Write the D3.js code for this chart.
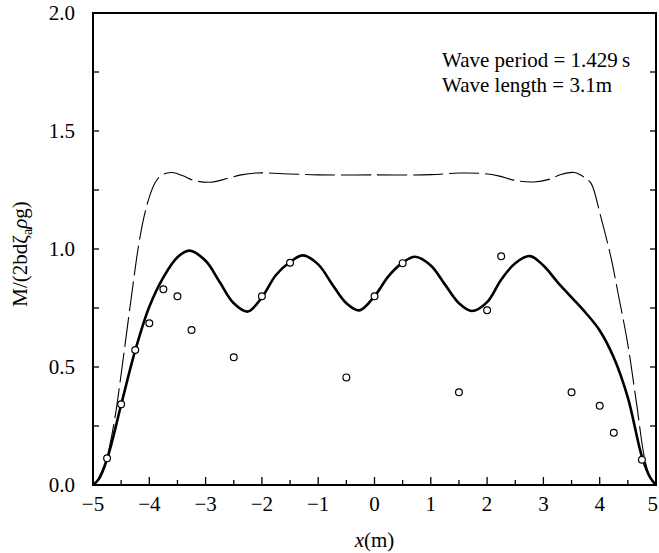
<!DOCTYPE html>
<html>
<head>
<meta charset="utf-8">
<script src="https://cdn.jsdelivr.net/npm/d3@7"></script>
<style>
  body { margin: 0; background: #fff; }
  text { font-family: "Liberation Serif", "DejaVu Serif", serif; fill: #000; }
</style>
</head>
<body>
<svg id="chart" width="659" height="553"></svg>
<script>
// theory (thick solid line)
var solidX = [-5, -4.9, -4.75, -4.5, -4.25, -4.0, -3.75, -3.5, -3.29, -3.0, -2.75, -2.5, -2.25, -2.0, -1.75, -1.5, -1.27, -1.0, -0.75, -0.5, -0.27, 0, 0.25, 0.5, 0.72, 1.0, 1.25, 1.5, 1.73, 2.0, 2.25, 2.5, 2.76, 3.0, 3.25, 3.5, 3.75, 4.0, 4.25, 4.5, 4.75, 4.9, 5]
var solidY = [0, 0.025, 0.11, 0.34, 0.57, 0.755, 0.88, 0.965, 0.993, 0.95, 0.86, 0.77, 0.735, 0.795, 0.89, 0.945, 0.973, 0.935, 0.85, 0.77, 0.74, 0.80, 0.885, 0.942, 0.967, 0.93, 0.85, 0.77, 0.737, 0.775, 0.87, 0.94, 0.97, 0.93, 0.86, 0.795, 0.73, 0.655, 0.54, 0.37, 0.12, 0.03, 0]

// long-dash line
var dashX = [-5, -4.9, -4.8, -4.7, -4.6, -4.5, -4.4, -4.3, -4.2, -4.1, -4.0, -3.9, -3.8, -3.68, -3.56, -3.4, -3.2, -2.9, -2.6, -2.37, -2.1, -1.5, -1.0, 0, 1.0, 1.5, 1.9, 2.2, 2.5, 2.83, 3.1, 3.3, 3.55, 3.75, 3.85, 4.02, 4.2, 4.32, 4.5, 4.65, 4.8, 4.9, 5]
var dashY = [0, 0.02, 0.07, 0.17, 0.3, 0.47, 0.65, 0.83, 1.0, 1.13, 1.22, 1.28, 1.31, 1.322, 1.323, 1.31, 1.29, 1.283, 1.3, 1.314, 1.322, 1.318, 1.314, 1.314, 1.315, 1.322, 1.32, 1.31, 1.29, 1.284, 1.295, 1.315, 1.324, 1.3, 1.277, 1.136, 0.964, 0.82, 0.595, 0.353, 0.11, 0.03, 0]

// measured points (circles)
var expX = [-4.75, -4.5, -4.25, -4.0, -3.75, -3.5, -3.25, -2.5, -2.0, -1.5, -0.5, 0, 0.5, 1.5, 2.0, 2.25, 3.5, 4.0, 4.25, 4.75]
var expY = [0.113, 0.342, 0.572, 0.685, 0.829, 0.80, 0.657, 0.541, 0.80, 0.942, 0.456, 0.80, 0.94, 0.393, 0.74, 0.969, 0.393, 0.336, 0.221, 0.107]

var xTicks = [-5, -4, -3, -2, -1, 0, 1, 2, 3, 4, 5]
var yTicks = [0, 0.5, 1.0, 1.5, 2.0]

var margin = {top: 13, right: 3, bottom: 68, left: 93}
var width = 659 - margin.left - margin.right
var height = 553 - margin.top - margin.bottom

var svg = d3.select("#chart")
var g = svg.append("g").attr("transform", "translate(" + margin.left + "," + margin.top + ")")

var x = d3.scaleLinear().domain([-5, 5]).range([0, width])
var y = d3.scaleLinear().domain([0, 2]).range([height, 0])

// ticks pointing inward
var minorX = d3.range(-5, 5.01, 0.5)
g.selectAll(".xtick").data(minorX).enter().append("line")
  .attr("x1", function(d){ return x(d) }).attr("x2", function(d){ return x(d) })
  .attr("y1", height)
  .attr("y2", function(d){ return height - (Number.isInteger(d) ? 8 : 5) })
  .attr("stroke", "#000").attr("stroke-width", 1.3)

var minorY = d3.range(0, 2.01, 0.25)
g.selectAll(".ytickl").data(minorY).enter().append("line")
  .attr("x1", 0).attr("x2", 6)
  .attr("y1", function(d){ return y(d) }).attr("y2", function(d){ return y(d) })
  .attr("stroke", "#000").attr("stroke-width", 1.3)
g.selectAll(".ytickr").data(minorY).enter().append("line")
  .attr("x1", width).attr("x2", width - 6)
  .attr("y1", function(d){ return y(d) }).attr("y2", function(d){ return y(d) })
  .attr("stroke", "#000").attr("stroke-width", 1.3)

// tick labels (last one kept inside the window)
g.selectAll(".xlab").data(xTicks).enter().append("text")
  .attr("x", function(d){ return d === 5 ? x(d) + 2 : x(d) })
  .attr("y", height + 26)
  .attr("text-anchor", function(d){ return d === 5 ? "end" : "middle" })
  .style("font-size", "21px")
  .text(function(d){ return d < 0 ? "\u2212" + Math.abs(d) : d })

g.selectAll(".ylab").data(yTicks).enter().append("text")
  .attr("x", -18)
  .attr("y", function(d){ return y(d) })
  .attr("dy", "0.35em")
  .attr("text-anchor", "end")
  .style("font-size", "21px")
  .text(function(d){ return d.toFixed(1) })

// axis titles
var xt = svg.append("text")
  .attr("x", margin.left + width / 2)
  .attr("y", 547)
  .attr("text-anchor", "middle")
  .style("font-size", "21px")
xt.append("tspan").style("font-style", "italic").text("x")
xt.append("tspan").text("(m)")

var yt = svg.append("text")
  .attr("transform", "translate(27," + (margin.top + y(1.0) + 5) + ") rotate(-90)")
  .attr("text-anchor", "middle")
  .style("font-size", "21px")
yt.append("tspan").text("M/(2bd\u03b6")
yt.append("tspan").attr("dy", 5).style("font-size", "14px").text("a")
yt.append("tspan").attr("dy", -5).style("font-style", "italic").text("\u03c1")
yt.append("tspan").text("g)")

// curves
var line = d3.line()
  .x(function(d){ return x(d[0]) })
  .y(function(d){ return y(d[1]) })
  .curve(d3.curveCatmullRom.alpha(0.5))

g.append("path")
  .datum(d3.zip(dashX, dashY))
  .attr("d", line)
  .attr("fill", "none")
  .attr("stroke", "#000")
  .attr("stroke-width", 1.1)
  .attr("stroke-dasharray", "30,6")

g.append("path")
  .datum(d3.zip(solidX, solidY))
  .attr("d", line)
  .attr("fill", "none")
  .attr("stroke", "#000")
  .attr("stroke-width", 2.6)

g.selectAll(".pt").data(d3.zip(expX, expY)).enter().append("circle")
  .attr("cx", function(d){ return x(d[0]) })
  .attr("cy", function(d){ return y(d[1]) })
  .attr("r", 3.4)
  .attr("fill", "#fff")
  .attr("stroke", "#000")
  .attr("stroke-width", 1.2)

// frame
g.append("rect")
  .attr("width", width).attr("height", height)
  .attr("fill", "none").attr("stroke", "#000").attr("stroke-width", 2)

// annotation
g.append("text").attr("x", x(1.2)).attr("y", 54)
  .style("font-size", "21px").text("Wave period = 1.429\u2009s")
g.append("text").attr("x", x(1.2)).attr("y", 79)
  .style("font-size", "21px").text("Wave length = 3.1m")
</script>
</body>
</html>
